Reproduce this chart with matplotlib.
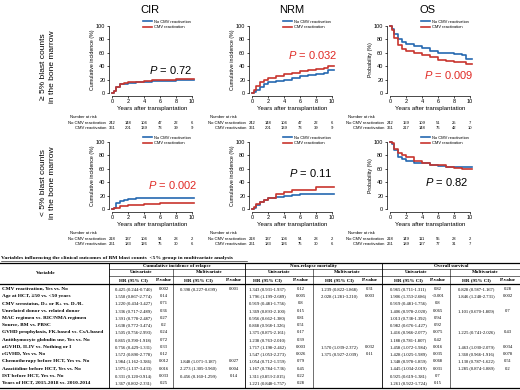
import matplotlib
matplotlib.use('Agg')
import matplotlib.pyplot as plt
import matplotlib.transforms as mtransforms

# ---- survival / incidence curves ----
years = [0, 0.2, 0.5, 1, 1.5, 2, 3, 4, 5, 6, 7, 8, 9, 9.5, 10.2]

cir_hi_no = [0, 3, 9, 13, 14, 15, 16, 17, 18, 18, 18.5, 19, 20, 20, 20]
cir_hi_cmv = [0, 3, 9, 13, 15, 16, 17, 18, 19, 19.5, 20, 21, 21, 21, 21]
nrm_hi_no = [0, 2, 5, 9, 13, 16, 18, 20, 22, 26, 27, 28, 30, 35, 35]
nrm_hi_cmv = [0, 4, 10, 17, 20, 23, 26, 28, 30, 33, 34, 36, 37, 40, 40]
os_hi_no = [100, 96, 88, 80, 76, 73, 70, 67, 63, 60, 59, 58, 57, 51, 51]
os_hi_cmv = [100, 94, 82, 71, 66, 63, 59, 56, 53, 50, 48, 47, 46, 43, 43]

cir_lo_no = [0, 2, 9, 12, 14, 15, 16, 16, 16, 16, 16, 16, 16, 16, 16]
cir_lo_cmv = [0, 1, 2, 4, 5, 6, 6.5, 7, 8, 9, 9.5, 9.5, 9.5, 9.5, 9.5]
nrm_lo_no = [0, 2, 6, 10, 13, 16, 18, 20, 21, 23, 23, 23, 23, 23, 23]
nrm_lo_cmv = [0, 3, 7, 10, 14, 17, 22, 26, 28, 28.5, 29, 33, 33, 33, 33]
os_lo_no = [100, 97, 88, 78, 74, 71, 69, 68, 66, 64, 63, 62, 62, 62, 62]
os_lo_cmv = [100, 98, 90, 83, 80, 77, 72, 68, 66, 65, 63, 61, 60, 60, 60]

p_labels = ["0.72", "0.032", "0.009", "0.002", "0.11", "0.82"]
p_signif = [False, True, True, True, False, False]

# number at risk at years 0,2,4,6,8,10
risk_years = [0, 2, 4, 6, 8, 10]
risk_hi_no = [242, 148, 104, 47, 22, 6]
risk_hi_cmv = [361, 201, 139, 73, 39, 9]
risk_hi_os_no = [242, 159, 109, 51, 25, 7]
risk_hi_os_cmv = [361, 217, 148, 76, 42, 10]
risk_lo_no = [218, 137, 104, 54, 28, 2]
risk_lo_cmv = [261, 183, 126, 75, 30, 6]
risk_lo_os_no = [218, 149, 111, 55, 28, 2]
risk_lo_os_cmv = [261, 189, 127, 77, 31, 7]

# ---- multivariate table ----
variables = [
    "CMV reactivation, Yes vs. No",
    "Age at HCT, \u226550 vs. <50 years",
    "CMV serostatus, D+ or R+ vs. D-/R-",
    "Unrelated donor vs. related donor",
    "MAC regimen vs. RIC/NMA regimen",
    "Source, BM vs. PBSC",
    "GVHD prophylaxis, FK-based vs. CsA-based",
    "Antithymocyte globulin use, Yes vs. No",
    "aGVHD, II-IV vs. Nothing or I",
    "cGVHD, Yes vs. No",
    "Chemotherapy before HCT, Yes vs. No",
    "Azacitidine before HCT, Yes vs. No",
    "IST before HCT, Yes vs. No",
    "Years of HCT, 2015-2018 vs. 2010-2014",
]
cir_uni_hr = ["0.425 (0.244-0.740)", "1.550 (0.867-2.774)", "1.220 (0.434-3.427)",
              "1.336 (0.717-2.489)", "1.391 (0.778-2.487)", "1.638 (0.772-3.474)",
              "1.505 (0.756-2.993)", "0.865 (0.390-1.918)", "0.756 (0.429-1.331)",
              "1.572 (0.890-2.778)", "1.984 (1.162-3.386)", "1.975 (1.137-3.433)",
              "0.331 (0.120-0.914)", "1.367 (0.802-2.331)"]
cir_uni_p = ["0.002", "0.14", "0.71", "0.36", "0.27", "0.2", "0.24", "0.72", "0.33",
             "0.12", "0.012", "0.016", "0.033", "0.25"]
cir_multi_hr = ["0.398 (0.227-0.699)", "", "", "", "", "", "", "", "", "",
                "1.848 (1.071-3.187)", "2.273 (1.305-3.960)", "0.456 (0.160-1.299)", ""]
cir_multi_p = ["0.001", "", "", "", "", "", "", "", "", "", "0.027", "0.004", "0.14", ""]
nrm_uni_hr = ["1.343 (0.931-1.937)", "1.796 (1.199-2.689)", "0.919 (0.481-1.756)",
              "1.369 (0.893-2.100)", "0.956 (0.662-1.380)", "0.868 (0.568-1.326)",
              "1.375 (0.875-2.161)", "1.238 (0.763-2.010)", "1.717 (1.198-2.462)",
              "1.547 (1.053-2.273)", "1.054 (0.712-1.559)", "1.167 (0.784-1.736)",
              "1.311 (0.853-2.015)", "1.221 (0.848-1.757)"]
nrm_uni_p = ["0.12", "0.005", "0.8", "0.15", "0.81", "0.51", "0.17", "0.39", "0.003",
             "0.026", "0.79", "0.45", "0.22", "0.28"]
nrm_multi_hr = ["1.239 (0.822-1.868)", "2.028 (1.281-3.210)", "", "", "", "", "", "",
                "1.570 (1.039-2.372)", "1.375 (0.927-2.039)", "", "", "", ""]
nrm_multi_p = ["0.31", "0.003", "", "", "", "", "", "", "0.032", "0.11", "", "", "", ""]
os_uni_hr = ["0.965 (0.711-1.311)", "1.906 (1.353-2.686)", "0.919 (0.481-1.756)",
             "1.406 (0.978-2.020)", "1.013 (0.738-1.392)", "0.982 (0.676-1.427)",
             "1.416 (0.966-2.077)", "1.188 (0.781-1.807)", "1.458 (1.072-1.984)",
             "1.428 (1.025-1.989)", "1.348 (0.978-1.859)", "1.445 (1.034-2.019)",
             "0.925 (0.619-1.381)", "1.261 (0.922-1.724)"]
os_uni_p = ["0.82", "<0.001", "0.8", "0.065", "0.94", "0.92", "0.075", "0.42", "0.016",
            "0.035", "0.068", "0.031", "0.7", "0.15"]
os_multi_hr = ["0.828 (0.587-1.167)", "1.846 (1.248-2.731)", "", "1.101 (0.670-1.809)",
               "", "", "1.225 (0.741-2.026)", "", "1.463 (1.030-2.079)",
               "1.360 (0.966-1.916)", "1.130 (0.787-1.622)", "1.285 (0.874-1.889)", "", ""]
os_multi_p = ["0.28", "0.002", "", "0.7", "", "", "0.43", "", "0.034", "0.078", "0.51",
              "0.2", "", ""]

BLUE = "#2568b0"
RED = "#c8352e"
PRED = "#e02a25"
W, H = 520, 390

plt.rcParams['font.family'] = ['Liberation Sans', 'DejaVu Sans']
plt.rcParams['mathtext.fontset'] = 'custom'
plt.rcParams['mathtext.it'] = 'Liberation Sans:italic'
plt.rcParams['mathtext.rm'] = 'Liberation Sans'

fig = plt.figure(figsize=(5.2, 3.9), dpi=100)
tab = fig.add_axes([0, 0, 1, 1])
tab.set_xlim(0, W)
tab.set_ylim(H, 0)
tab.axis('off')

col_x0 = [112, 252, 390]   # pixel of year 0
row_y0 = [93, 209]         # pixel of 0 %
XS, YS = 8.0, 0.67

curves = [
    [(cir_hi_no, cir_hi_cmv), (nrm_hi_no, nrm_hi_cmv), (os_hi_no, os_hi_cmv)],
    [(cir_lo_no, cir_lo_cmv), (nrm_lo_no, nrm_lo_cmv), (os_lo_no, os_lo_cmv)],
]
risks = [
    [(risk_hi_no, risk_hi_cmv), (risk_hi_no, risk_hi_cmv), (risk_hi_os_no, risk_hi_os_cmv)],
    [(risk_lo_no, risk_lo_cmv), (risk_lo_no, risk_lo_cmv), (risk_lo_os_no, risk_lo_os_cmv)],
]
p_pos = [[(7.25, 34), (7.6, 57), (7.4, 27)], [(7.6, 36), (7.3, 54), (7.1, 40)]]

k = 0
for r in range(2):
    for c in range(3):
        x0, y0 = col_x0[c], row_y0[r]
        left, right = x0 - 0.4 * XS, x0 + 10.4 * XS
        top, bottom = y0 - 104 * YS, y0 + 4 * YS
        ax = fig.add_axes([left / W, 1 - bottom / H, (right - left) / W, (bottom - top) / H])
        ax.set_facecolor('none')
        ax.set_xlim(-0.4, 10.4)
        ax.set_ylim(-4, 104)
        no, cmv = curves[r][c]
        ax.step(years, no, where='post', color=BLUE, lw=1.2, label="No CMV reactivation")
        ax.step(years, cmv, where='post', color=RED, lw=1.2, label="CMV reactivation")
        for s in ['top', 'right']:
            ax.spines[s].set_visible(False)
        ax.spines['left'].set_bounds(0, 100)
        ax.spines['bottom'].set_bounds(0, 10)
        for s in ['left', 'bottom']:
            ax.spines[s].set_linewidth(0.5)
        ax.set_xticks(range(0, 11, 2))
        ax.set_yticks(range(0, 101, 20))
        ax.tick_params(labelsize=4, length=1.5, width=0.5, pad=1)
        ax.set_xlabel("Years after transplantation", fontsize=4.3, labelpad=1)
        ax.set_ylabel("Probability (%)" if c == 2 else "Cumulative incidence (%)",
                      fontsize=3.8, labelpad=1)
        ax.legend(loc='upper left', bbox_to_anchor=(0.40, 1.05), frameon=False,
                  fontsize=2.9, handlelength=2.2, handletextpad=0.5,
                  borderpad=0, borderaxespad=0, labelspacing=0.35)
        px, py = p_pos[r][c]
        ax.text(px, py, "$P$ = " + p_labels[k], ha='center', va='center', fontsize=8,
                color=PRED if p_signif[k] else 'black')
        k += 1

        # number at risk table
        tr = mtransforms.blended_transform_factory(ax.transData, tab.transData)
        ry = y0 + 24
        tab.text(x0 - 29, ry, "Number at risk", ha='center', va='center', fontsize=3.0)
        tab.text(x0 - 6, ry + 6.3, "No CMV reactivation", ha='right', va='center', fontsize=3.0)
        tab.text(x0 - 6, ry + 10.8, "CMV reactivation", ha='right', va='center', fontsize=3.0)
        rno, rcmv = risks[r][c]
        for yr, a, b in zip(risk_years, rno, rcmv):
            ax.text(yr, ry + 6.3, str(a), transform=tr, ha='center', va='center', fontsize=3.0)
            ax.text(yr, ry + 10.8, str(b), transform=tr, ha='center', va='center', fontsize=3.0)

# column and row titles
for name, x in zip(["CIR", "NRM", "OS"], [150, 292, 428]):
    tab.text(x, 10, name, ha='center', va='center', fontsize=8)
tab.text(48, 67, "\u2265 5% blast counts\nin the bone marrow", rotation=90,
         ha='center', va='center', fontsize=6, linespacing=1.25)
tab.text(48, 183, "< 5% blast counts\nin the bone marrow", rotation=90,
         ha='center', va='center', fontsize=6, linespacing=1.25)

# ---- table drawing ----
serif = ['Liberation Serif', 'DejaVu Serif']
title = "Variables influencing the clinical outcomes of BM blast counts  <5% group in multivariate analysis"
tab.text(1, 258, title, ha='left', va='center', fontsize=3.95, fontweight='bold', family=serif)
tab.plot([1, 247], [260.6, 260.6], color='black', lw=0.4)

lw_thick, lw_thin = 0.9, 0.4
tab.plot([0, W], [262.5, 262.5], color='black', lw=lw_thick)
tab.plot([109, W], [268.8, 268.8], color='black', lw=lw_thin)
tab.plot([109, W], [276.0, 276.0], color='black', lw=lw_thin)
tab.plot([0, W], [283.8, 283.8], color='black', lw=lw_thick)
tab.plot([0, W], [387.5, 387.5], color='black', lw=lw_thick)
for x in [109, 245, 382]:
    tab.plot([x, x], [262.5, 387.5], color='black', lw=0.6)
for x in [173, 313, 450]:
    tab.plot([x, x], [268.8, 387.5], color='black', lw=lw_thin)

tab.text(46, 273, "Variable", ha='center', va='center', fontsize=3.9,
         fontweight='bold', family=serif)
for name, x in zip(["Cumulative incidence of relapse", "Non-relapse mortality",
                    "Overall survival"], [177, 313, 451]):
    tab.text(x, 265.6, name, ha='center', va='center', fontsize=3.6,
             fontweight='bold', family=serif)
for x in [141, 209, 279, 347, 416, 485]:
    tab.text(x, 272.4, "Univariate" if x in (141, 279, 416) else "Multivariate",
             ha='center', va='center', fontsize=3.6, fontweight='bold', family=serif)

cols = [(cir_uni_hr, cir_uni_p, 133, 164), (cir_multi_hr, cir_multi_p, 198, 234),
        (nrm_uni_hr, nrm_uni_p, 267, 301), (nrm_multi_hr, nrm_multi_p, 339, 370),
        (os_uni_hr, os_uni_p, 408, 438), (os_multi_hr, os_multi_p, 476, 508)]
for hr, pv, xh, xp in cols:
    tab.text(xh, 279.6, "HR (95% CI)", ha='center', va='center', fontsize=3.6,
             fontweight='bold', family=serif)
    tab.text(xp, 279.6, "P-value", ha='center', va='center', fontsize=3.6,
             fontweight='bold', family=serif)
    for i, (h, p) in enumerate(zip(hr, pv)):
        y = 289 + i * 7.23
        tab.text(xh, y, h, ha='center', va='center', fontsize=3.3, family=serif)
        tab.text(xp, y, p, ha='center', va='center', fontsize=3.3, family=serif)

for i, v in enumerate(variables):
    tab.text(1.5, 289 + i * 7.23, v, ha='left', va='center', fontsize=3.8,
             fontweight='bold', family=serif)

fig.savefig("out.png", dpi=100)
